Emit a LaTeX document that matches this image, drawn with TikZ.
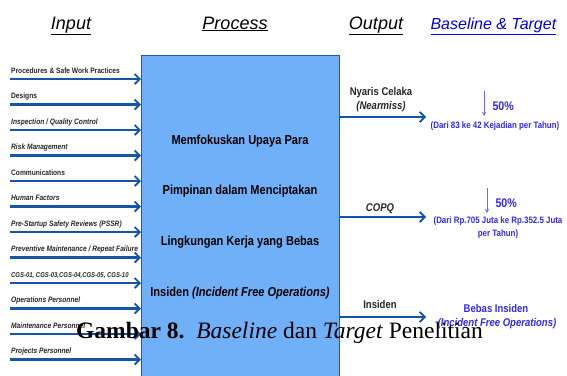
\documentclass[tikz,border=0pt]{standalone}
\usepackage{fontspec}
\setmainfont{Liberation Sans}
\newfontfamily\narrowsf[FakeStretch=0.85]{Liberation Sans}
\newfontfamily\capserif{Liberation Serif}
\usetikzlibrary{arrows.meta,positioning}
\definecolor{procfill}{RGB}{112,176,248}
\definecolor{procline}{RGB}{30,90,170}
\definecolor{arrblue}{RGB}{20,85,165}
\definecolor{tgtblue}{RGB}{50,40,245}
\tikzset{
  procbox/.style={draw=procline, thick, fill=procfill, minimum width=198pt, minimum height=322pt, inner sep=0pt, anchor=north west},
  proctxt/.style={font=\narrowsf\bfseries\fontsize{13}{15}\selectfont, anchor=base},
  flowarr/.style={-{Straight Barb[length=5pt,width=10pt,line width=1.8pt]}, line width=2.4pt, draw=arrblue},
  inlbl/.style={font=\narrowsf\bfseries\fontsize{7.8}{9}\selectfont, text=black!85, inner sep=0pt, anchor=base west},
  headtxt/.style={font=\itshape\fontsize{18}{20}\selectfont, anchor=base},
  outlbl/.style={font=\narrowsf\bfseries\fontsize{11.2}{13}\selectfont, text=black!85, anchor=base},
  tgttxt/.style={font=\narrowsf\bfseries\fontsize{9.3}{11}\selectfont, text=tgtblue, anchor=base},
  tgtbig/.style={font=\narrowsf\bfseries\fontsize{11.2}{13}\selectfont, text=tgtblue, anchor=base},
  downarr/.style={-{Stealth[length=4pt,width=4pt]}, draw=tgtblue!70, line width=0.6pt}
}

\begin{document}
\begin{tikzpicture}[x=1pt,y=-1pt]
\useasboundingbox (0,0) rectangle (567,375);

% headings
\node[headtxt] (hin) at (71,29) {\underline{Input}};
\node[headtxt] (hproc) at (235,29) {\underline{Process}};
\node[headtxt] (hout) at (376,29) {\underline{Output}};
\node[headtxt, anchor=base west, text=blue!90!black, font=\itshape\fontsize{16}{18}\selectfont] (htgt) at (427,29) {\underline{Baseline \& Target}};

% process box
\node[procbox] (proc) at (141,55) {};
\node[proctxt] (p1) at (240,144) {Memfokuskan Upaya Para};
\node[proctxt] (p2) at (240,194) {Pimpinan dalam Menciptakan};
\node[proctxt] (p3) at (240,245) {Lingkungan Kerja yang Bebas};
\node[proctxt] (p4) at (240,296) {Insiden \textit{(Incident Free Operations)}};

% inputs
\foreach \lbl [count=\i] in {Procedures \& Safe Work Practices, Designs,
  \textit{Inspection / Quality Control}, \textit{Risk Management}, Communications,
  \textit{Human Factors}, \textit{Pre-Startup Safety Reviews (PSSR)},
  \textit{Preventive Maintenance / Repeat Failure},
  {\fontsize{7}{8}\selectfont\textit{CGS-01, CGS-03,CGS-04,CGS-05, CGS-10}}, \textit{Operations Personnel},
  \textit{Maintenance Personnel}, \textit{Projects Personnel}} {
  \coordinate (in\i) at (10,{79+25.5*(\i-1)});
  \node[inlbl] (inl\i) at ([xshift=1pt,yshift=6pt]in\i) {\lbl};
  \draw[flowarr] (in\i) -- (in\i -| proc.west);
}

% outputs
\coordinate (o1) at (426,117);
\coordinate (o2) at (426,217);
\coordinate (o3) at (426,317);
\draw[flowarr] (o1 -| proc.east) -- (o1);
\draw[flowarr] (o2 -| proc.east) -- (o2);
\draw[flowarr] (o3 -| proc.east) -- (o3);
\node[outlbl] (ol1) at (381,95) {Nyaris Celaka};
\node[outlbl] (ol1b) at (381,109) {\textit{(Nearmiss)}};
\node[outlbl] (ol2) at (380,211) {\textit{COPQ}};
\node[outlbl] (ol3) at (380,308) {Insiden};

% baseline & target
\coordinate (d1a) at (484,91);
\coordinate (d1b) at (484,116);
\draw[downarr] (d1a) -- (d1b);
\node[tgtbig, anchor=base west, font=\narrowsf\bfseries\fontsize{12.5}{14}\selectfont] (t1) at (489,110) {50\%};
\node[tgttxt] (t1b) at (495,128) {(Dari 83 ke 42 Kejadian per Tahun)};
\coordinate (d2a) at (487,188);
\coordinate (d2b) at (487,213);
\draw[downarr] (d2a) -- (d2b);
\node[tgtbig, anchor=base west, font=\narrowsf\bfseries\fontsize{12.5}{14}\selectfont] (t2) at (492,207) {50\%};
\node[tgttxt] (t2b) at (498,223) {(Dari Rp.705 Juta ke Rp.352.5 Juta};
\node[tgttxt] (t2c) at (498,236) {per Tahun)};
\node[tgtbig] (t3) at (496,312) {Bebas Insiden};
\node[tgtbig] (t3b) at (497,326) {\textit{(Incident Free Operations)}};

% caption
\node[font=\capserif\fontsize{23.5}{28}\selectfont, anchor=base west, inner sep=0pt] (cap) at (76,338)
  {\textbf{Gambar 8.}\enspace\textit{Baseline} dan \textit{Target} Penelitian};
\end{tikzpicture}
\end{document}
